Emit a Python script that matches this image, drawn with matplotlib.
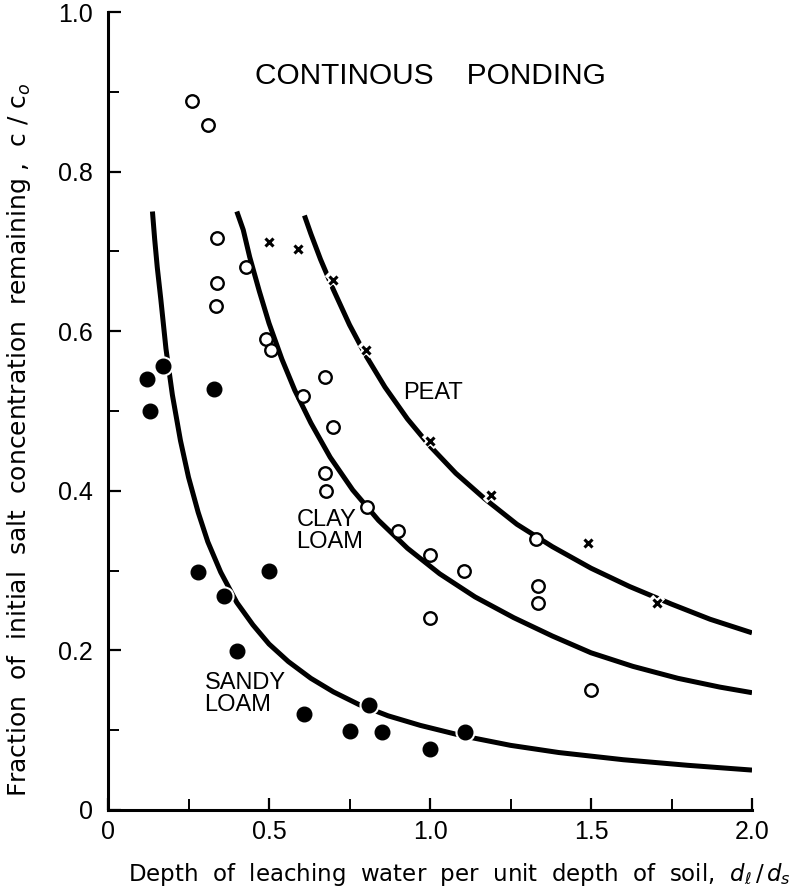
import matplotlib
matplotlib.use("Agg")
import matplotlib.pyplot as plt
from matplotlib.ticker import MultipleLocator, FixedLocator

plt.rcParams['font.family'] = ['Liberation Sans', 'DejaVu Sans']

# --- data ---
sandy_x = [0.12, 0.13, 0.17, 0.33, 0.28, 0.36, 0.40, 0.50, 0.61, 0.75, 0.81, 0.85, 1.00, 1.11]
sandy_y = [0.54, 0.50, 0.556, 0.528, 0.298, 0.268, 0.199, 0.299, 0.12, 0.099, 0.131, 0.098, 0.076, 0.098]

clay_x = [0.26, 0.31, 0.34, 0.43, 0.34, 0.335, 0.49, 0.505, 0.675, 0.605, 0.70, 0.675, 0.677,
          0.805, 0.90, 1.00, 1.105, 1.33, 1.335, 1.335, 1.00, 1.50]
clay_y = [0.888, 0.858, 0.717, 0.68, 0.66, 0.631, 0.59, 0.576, 0.542, 0.519, 0.48, 0.422, 0.40,
          0.38, 0.35, 0.32, 0.30, 0.339, 0.281, 0.259, 0.24, 0.15]

peat_x = [0.50, 0.59, 0.70, 0.80, 1.00, 1.19, 1.49, 1.705]
peat_y = [0.712, 0.703, 0.664, 0.577, 0.462, 0.395, 0.334, 0.26]

sandy_curve_x = [0.138, 0.145, 0.153, 0.164, 0.18, 0.20, 0.225, 0.25, 0.28, 0.31, 0.35, 0.40, 0.45,
                 0.50, 0.56, 0.63, 0.70, 0.78, 0.87, 0.97, 1.10, 1.25, 1.40, 1.60, 1.80, 2.0]
sandy_curve_y = [0.75, 0.715, 0.68, 0.64, 0.578, 0.52, 0.463, 0.417, 0.373, 0.336, 0.298, 0.26, 0.232,
                 0.208, 0.186, 0.165, 0.148, 0.132, 0.118, 0.106, 0.093, 0.081, 0.072, 0.063, 0.056, 0.05]

clay_curve_x = [0.40, 0.42, 0.44, 0.47, 0.50, 0.54, 0.58, 0.63, 0.69, 0.76, 0.84, 0.93, 1.03,
                1.14, 1.26, 1.38, 1.50, 1.63, 1.77, 1.90, 2.0]
clay_curve_y = [0.75, 0.727, 0.693, 0.65, 0.61, 0.565, 0.526, 0.485, 0.442, 0.401, 0.363, 0.328, 0.296,
                0.267, 0.241, 0.218, 0.197, 0.180, 0.165, 0.154, 0.147]

peat_curve_x = [0.61, 0.63, 0.66, 0.70, 0.75, 0.80, 0.86, 0.93, 1.00, 1.08, 1.17, 1.27, 1.38,
                1.50, 1.62, 1.75, 1.87, 2.0]
peat_curve_y = [0.745, 0.722, 0.69, 0.652, 0.608, 0.57, 0.53, 0.49, 0.456, 0.422, 0.39, 0.358, 0.33,
                0.303, 0.28, 0.258, 0.239, 0.222]

x_ticks = [0, 0.5, 1.0, 1.5, 2.0]
x_ticklabels = ['0', '0.5', '1.0', '1.5', '2.0']
y_ticks = [0, 0.2, 0.4, 0.6, 0.8, 1.0]
y_ticklabels = ['0', '0.2', '0.4', '0.6', '0.8', '1.0']

fig = plt.figure(figsize=(8.03, 8.96), dpi=100)
ax = fig.add_axes([0.1345, 0.096, 0.802, 0.8906])

# curves
for cx, cy in [(sandy_curve_x, sandy_curve_y), (clay_curve_x, clay_curve_y), (peat_curve_x, peat_curve_y)]:
    ax.plot(cx, cy, color='black', lw=3.6, solid_capstyle='butt', solid_joinstyle='round', zorder=2)

# points with white halo
ax.plot(sandy_x, sandy_y, 'o', ms=13.5, color='white', zorder=3)
ax.plot(sandy_x, sandy_y, 'o', ms=10.5, color='black', zorder=4)
ax.plot(clay_x, clay_y, 'o', ms=9, mfc='white', mec='black', mew=1.7, zorder=4)
ax.plot(peat_x, peat_y, 'x', ms=9, color='white', mew=4.5, zorder=3)
ax.plot(peat_x, peat_y, 'x', ms=6, color='black', mew=2.2, zorder=4)

ax.set_xlim(0, 2.0)
ax.set_ylim(0, 1.0)
ax.xaxis.set_major_locator(FixedLocator(x_ticks))
ax.set_xticklabels(x_ticklabels)
ax.yaxis.set_major_locator(FixedLocator(y_ticks))
ax.set_yticklabels(y_ticklabels)
ax.xaxis.set_minor_locator(MultipleLocator(0.25))
ax.yaxis.set_minor_locator(MultipleLocator(0.1))

for s in ['top', 'right']:
    ax.spines[s].set_visible(False)
for s in ['left', 'bottom']:
    ax.spines[s].set_linewidth(2.2)

ax.tick_params(which='major', direction='in', length=9, width=1.6, labelsize=18)
ax.tick_params(which='minor', direction='in', length=8, width=1.4)
ax.tick_params(axis='y', which='major', pad=11)
ax.tick_params(axis='x', which='major', pad=7)

ax.set_xlabel(r'Depth  of  leaching  water  per  unit  depth  of  soil,  $d_\ell\,/\,d_s$',
              fontsize=16.5, family='DejaVu Sans')
ax.xaxis.set_label_coords(0.545, -0.064)
ax.set_ylabel(r'Fraction  of  initial  salt  concentration  remaining ,  c / c$_o$',
              fontsize=18, family='DejaVu Sans')
ax.yaxis.set_label_coords(-0.116, 0.464)

ax.text(1.0, 0.92, 'CONTINOUS    PONDING', fontsize=21.5, ha='center', va='center')
ax.text(0.915, 0.523, 'PEAT', fontsize=17, ha='left', va='center')
ax.text(0.585, 0.35, 'CLAY\nLOAM', fontsize=17, ha='left', va='center', linespacing=1.0)
ax.text(0.30, 0.145, 'SANDY\nLOAM', fontsize=17, ha='left', va='center', linespacing=1.0)

fig.savefig('out.png', dpi=100)
